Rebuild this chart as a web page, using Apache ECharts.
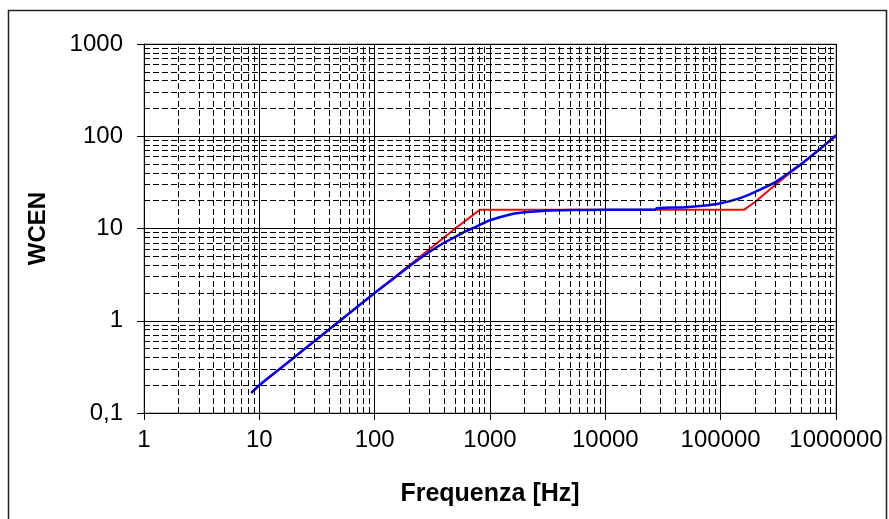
<!DOCTYPE html>
<html>
<head>
<meta charset="utf-8">
<script src="https://cdn.jsdelivr.net/npm/echarts@6/dist/echarts.min.js"></script>
<style>
html,body{margin:0;padding:0;background:#fff;}
#c{width:889px;height:519px;}
</style>
</head>
<body>
<div id="c"></div>
<script>
// Data
const blueFreq = [8.5, 10, 15, 20, 30, 50, 70, 100, 150, 200, 300, 400, 500, 600, 700, 800, 1000, 1500, 2000, 3000, 5000, 10000, 27000, 28000, 50000, 70000, 100000, 150000, 200000, 300000, 400000, 500000, 700000, 1000000];
const blueWcen = [0.165, 0.2, 0.3, 0.4, 0.6, 1.0, 1.4, 2.0, 2.95, 3.9, 5.6, 7.0, 8.1, 9.2, 10.0, 10.8, 12.3, 14.2, 15.0, 15.6, 15.85, 15.95, 16.0, 16.6, 17.0, 17.6, 18.8, 21.5, 25.0, 32, 41, 50, 70, 103];
const redFreq = [8.5, 10, 20, 50, 100, 200, 300, 500, 820, 160000, 200000, 300000, 500000, 1000000];
const redWcen = [0.165, 0.2, 0.4, 1.0, 2.0, 4.0, 6.0, 10.0, 16.0, 16.0, 19.5, 30, 50, 100];

const xMin = 1, xMax = 1000000;
const yMin = 0.1, yMax = 1000;
const xDecades = [1, 10, 100, 1000, 10000, 100000];
const yDecades = [0.1, 1, 10, 100];
const minorMultipliers = [2, 3, 4, 5, 6, 7, 8, 9];

const xTitle = 'Frequenza [Hz]';
const yTitle = 'WCEN';

function pairs(xs, ys) { return xs.map((x, i) => [x, ys[i]]); }

const minorX = [];
xDecades.forEach(d => minorMultipliers.forEach(m => minorX.push({ xAxis: +(d * m).toPrecision(6) })));
const minorY = [];
yDecades.forEach(d => minorMultipliers.forEach(m => minorY.push({ yAxis: +(d * m).toPrecision(6) })));

const chart = echarts.init(document.getElementById('c'), null, { renderer: 'canvas' });
const font = '"Liberation Sans", Arial, sans-serif';

chart.setOption({
  backgroundColor: '#ffffff',
  animation: false,
  graphic: [{
    type: 'rect',
    shape: { x: 8.5, y: 10.5, width: 878, height: 540 },
    style: { fill: 'none', stroke: '#222', lineWidth: 1.5 },
    silent: true, z: 0
  }],
  grid: {
    left: 144, top: 44, right: 53, bottom: 106,
    show: true, borderColor: '#888', borderWidth: 1, backgroundColor: 'transparent'
  },
  xAxis: {
    type: 'log', logBase: 10, min: xMin, max: xMax, interval: 1,
    name: xTitle, nameLocation: 'middle', nameGap: 69,
    nameTextStyle: { fontFamily: font, fontWeight: 'bold', fontSize: 25, color: '#000' },
    axisLine: { show: true, lineStyle: { color: '#000', width: 1 } },
    axisTick: { show: true, length: 7, inside: false, lineStyle: { color: '#000' } },
    axisLabel: { fontFamily: font, fontSize: 24, color: '#000', margin: 15,
      formatter: v => String(Math.round(v)) },
    splitLine: { show: true, lineStyle: { color: '#000', width: 1 } },
    minorTick: { show: false }, minorSplitLine: { show: false }
  },
  yAxis: {
    type: 'log', logBase: 10, min: yMin, max: yMax, interval: 1,
    name: yTitle, nameLocation: 'middle', nameGap: 94, nameRotate: 90,
    nameTextStyle: { fontFamily: font, fontWeight: 'bold', fontSize: 24, color: '#000' },
    axisLine: { show: true, lineStyle: { color: '#000', width: 1 } },
    axisTick: { show: true, length: 7, inside: false, lineStyle: { color: '#000' } },
    axisLabel: { fontFamily: font, fontSize: 24, color: '#000', margin: 21,
      formatter: v => String(+v.toPrecision(6)).replace('.', ',') },
    splitLine: { show: true, lineStyle: { color: '#000', width: 1 } }
  },
  series: [
    {
      type: 'line', data: [], silent: true, z: 1,
      markLine: {
        silent: true, symbol: ['none', 'none'], label: { show: false }, animation: false,
        lineStyle: { color: '#000', width: 1, type: [6, 3] },
        data: minorX.concat(minorY)
      }
    },
    {
      name: 'red', type: 'line', data: pairs(redFreq, redWcen), showSymbol: false, z: 3,
      lineStyle: { color: '#ff0000', width: 2 }, itemStyle: { color: '#ff0000' }
    },
    {
      name: 'blue', type: 'line', data: pairs(blueFreq, blueWcen), showSymbol: false, smooth: 0.3, z: 4,
      lineStyle: { color: '#0000ff', width: 2.5 }, itemStyle: { color: '#0000ff' }
    }
  ]
});
</script>
</body>
</html>
